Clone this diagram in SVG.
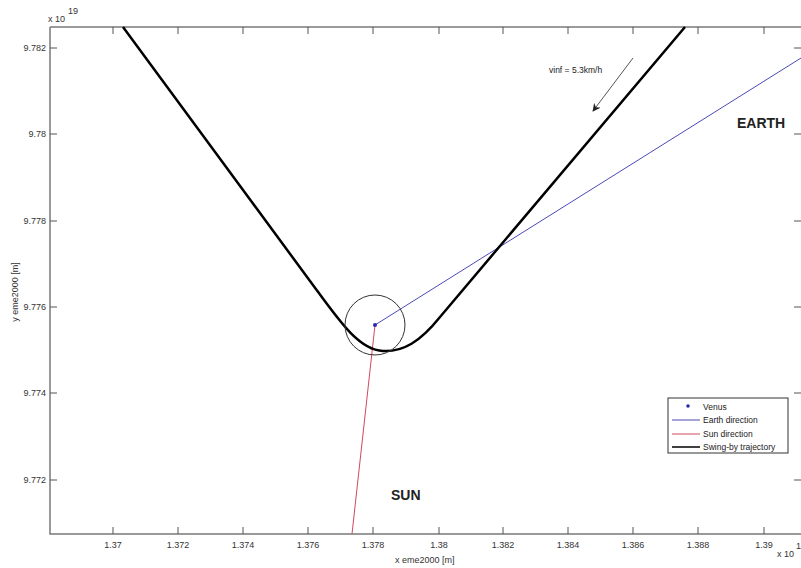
<svg xmlns="http://www.w3.org/2000/svg" width="801" height="568" viewBox="0 0 801 568">
<style>
.ax{stroke:#7a7a7a;stroke-width:1.5;fill:none}
.tk{stroke:#555;stroke-width:1;fill:none}
.tl{font-family:"Liberation Sans",Arial,sans-serif;font-size:9px;fill:#333}
.lg{font-family:"Liberation Sans",Arial,sans-serif;font-size:8.5px;fill:#222}
.big{font-family:"Liberation Sans",Arial,sans-serif;font-size:14px;font-weight:bold;fill:#222}
</style>
<defs>
<marker id="ah" viewBox="0 0 10 10" refX="9" refY="5" markerWidth="8" markerHeight="8" orient="auto" markerUnits="userSpaceOnUse">
<path d="M0,0 L10,5 L0,10 L3,5 Z" fill="#222"/>
</marker>
</defs>
<rect width="801" height="568" fill="#fff"/>
<g id="axes">
<path class="ax" d="M50,27 H803 M50,27 V534 H803"/>
<g class="tk">
<path d="M113,534v-7M178,534v-7M243,534v-7M308,534v-7M373,534v-7M439,534v-7M503,534v-7M568,534v-7M633,534v-7M698,534v-7M764,534v-7"/>
<path d="M113,27v7M178,27v7M243,27v7M308,27v7M373,27v7M439,27v7M503,27v7M568,27v7M633,27v7M698,27v7M764,27v7"/>
<path d="M50,48h7M50,134h7M50,221h7M50,307h7M50,393h7M50,480h7"/>
<path d="M801,48h-7M801,134h-7M801,221h-7M801,307h-7M801,393h-7M801,480h-7"/>
</g>
<g class="tl" text-anchor="middle">
<text x="113" y="548">1.37</text>
<text x="178" y="548">1.372</text>
<text x="243" y="548">1.374</text>
<text x="308" y="548">1.376</text>
<text x="373" y="548">1.378</text>
<text x="439" y="548">1.38</text>
<text x="503" y="548">1.382</text>
<text x="568" y="548">1.384</text>
<text x="633" y="548">1.386</text>
<text x="698" y="548">1.388</text>
<text x="764" y="548">1.39</text>
</g>
<g class="tl" text-anchor="end">
<text x="46" y="51">9.782</text>
<text x="46" y="137">9.78</text>
<text x="46" y="224">9.778</text>
<text x="46" y="310">9.776</text>
<text x="46" y="396">9.774</text>
<text x="46" y="483">9.772</text>
</g>
<text class="tl" x="395" y="563">x eme2000 [m]</text>
<text class="tl" transform="translate(18,292) rotate(-90)" text-anchor="middle">y eme2000 [m]</text>
<text class="tl" x="48" y="22">x 10</text>
<text class="tl" x="68" y="14" font-size="7">19</text>
<text class="tl" x="777" y="557">x 10</text>
<text class="tl" x="796" y="549" font-size="7">1</text>
</g>
<g id="connectors">
<line x1="375" y1="325" x2="801" y2="58" stroke="#4a4ab8" stroke-width="1"/>
<line x1="375" y1="325" x2="352" y2="534" stroke="#d04a5a" stroke-width="1"/>
<path d="M123,27 L310,281 C338,319 358,350 383,351 C403,352 420,342 440,317 L685,27" fill="none" stroke="#000" stroke-width="2.5" stroke-linejoin="round"/>
<line x1="633" y1="58" x2="593" y2="111" stroke="#555" stroke-width="1" marker-end="url(#ah)"/>
</g>
<g id="venus">
<circle cx="375" cy="325" r="30" fill="none" stroke="#333" stroke-width="1"/>
<circle cx="375" cy="325" r="2" fill="#2a2ab0"/>
</g>
<g id="labels">
<text class="lg" x="549" y="73">vinf = 5.3km/h</text>
<text class="big" x="737" y="128">EARTH</text>
<text class="big" x="391" y="500">SUN</text>
</g>
<g id="legend">
<rect x="668" y="398" width="120" height="55" fill="#fff" stroke="#333" stroke-width="1"/>
<circle cx="688" cy="406" r="1.8" fill="#2a2ab0"/>
<line x1="672" y1="420" x2="700" y2="420" stroke="#4a4ab8" stroke-width="1"/>
<line x1="672" y1="434" x2="700" y2="434" stroke="#d04a5a" stroke-width="1"/>
<line x1="672" y1="447" x2="700" y2="447" stroke="#000" stroke-width="1.5"/>
<text class="lg" x="703" y="410">Venus</text>
<text class="lg" x="703" y="423">Earth direction</text>
<text class="lg" x="703" y="437">Sun direction</text>
<text class="lg" x="703" y="450">Swing-by trajectory</text>
</g>
</svg>
